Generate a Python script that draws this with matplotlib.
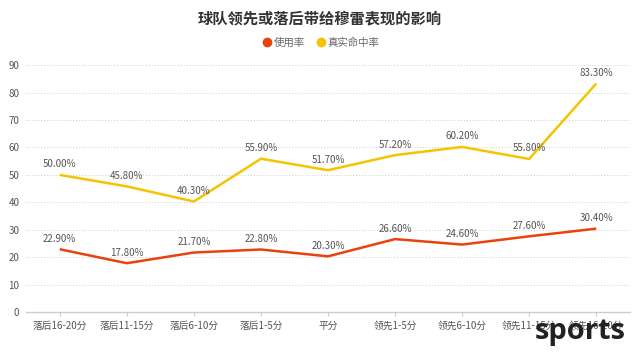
import matplotlib
matplotlib.use("Agg")
import matplotlib.pyplot as plt
from matplotlib.lines import Line2D

plt.rcParams['font.family'] = ['Noto Sans CJK SC', 'DejaVu Sans']

categories = ["落后16-20分", "落后11-15分", "落后6-10分", "落后1-5分", "平分",
              "领先1-5分", "领先6-10分", "领先11-15分", "领先16-20分"]
usage = [22.9, 17.8, 21.7, 22.8, 20.3, 26.6, 24.6, 27.6, 30.4]
ts = [50.0, 45.8, 40.3, 55.9, 51.7, 57.2, 60.2, 55.8, 83.3]
yticks = [0, 10, 20, 30, 40, 50, 60, 70, 80, 90]

c_usage = "#E8420E"
c_ts = "#F5C400"

fig = plt.figure(figsize=(6.4, 3.62), dpi=100)
ax = fig.add_axes([0.041, 0.138, 0.943, 0.682])

x = list(range(len(categories)))
ax.plot(x, usage, color=c_usage, lw=1.8, solid_capstyle='butt')
ax.plot(x, ts, color=c_ts, lw=1.8, solid_capstyle='butt')
for xi, v in zip(x, usage):
    ax.annotate(f"{v:.2f}%", (xi, v), xytext=(0, 4), textcoords='offset points',
                ha='center', va='bottom', fontsize=7, color='#555555')
for xi, v in zip(x, ts):
    ax.annotate(f"{v:.2f}%", (xi, v), xytext=(0, 4), textcoords='offset points',
                ha='center', va='bottom', fontsize=7, color='#555555')

ax.set_xlim(-0.5, len(categories) - 0.5)
ax.set_ylim(0, 90)
ax.set_yticks(yticks)
ax.set_xticks(x)
ax.set_xticklabels(categories)
ax.tick_params(axis='x', length=3, color='#cccccc', labelsize=7, labelcolor='#555555', pad=3)
ax.tick_params(axis='y', length=0, labelsize=7, labelcolor='#555555', pad=5)
ax.grid(axis='y', color='#cccccc', linestyle=(0, (1, 2)), lw=0.7)
ax.set_axisbelow(True)
for s in ['top', 'right', 'left']:
    ax.spines[s].set_visible(False)
ax.spines['bottom'].set_color('#cccccc')
ax.spines['bottom'].set_linewidth(1.0)

fig.text(0.5, 0.95, "球队领先或落后带给穆雷表现的影响", ha='center', va='center',
         fontsize=11, fontweight='bold', color='#333333')

handles = [Line2D([], [], marker='o', linestyle='', color=c_usage, markersize=6),
           Line2D([], [], marker='o', linestyle='', color=c_ts, markersize=6)]
fig.legend(handles, ["使用率", "真实命中率"], loc='center', bbox_to_anchor=(0.5, 0.882),
           ncol=2, frameon=False, fontsize=7.5, handletextpad=0.1, columnspacing=0.9,
           handlelength=1.2, labelcolor='#666666')

fig.text(0.978, 0.085, "sports", ha='right', va='center', fontsize=21,
         fontweight='bold', color='#222222', family=['Open Sans', 'DejaVu Sans'],
         zorder=10)

fig.savefig("out.png", dpi=100)
